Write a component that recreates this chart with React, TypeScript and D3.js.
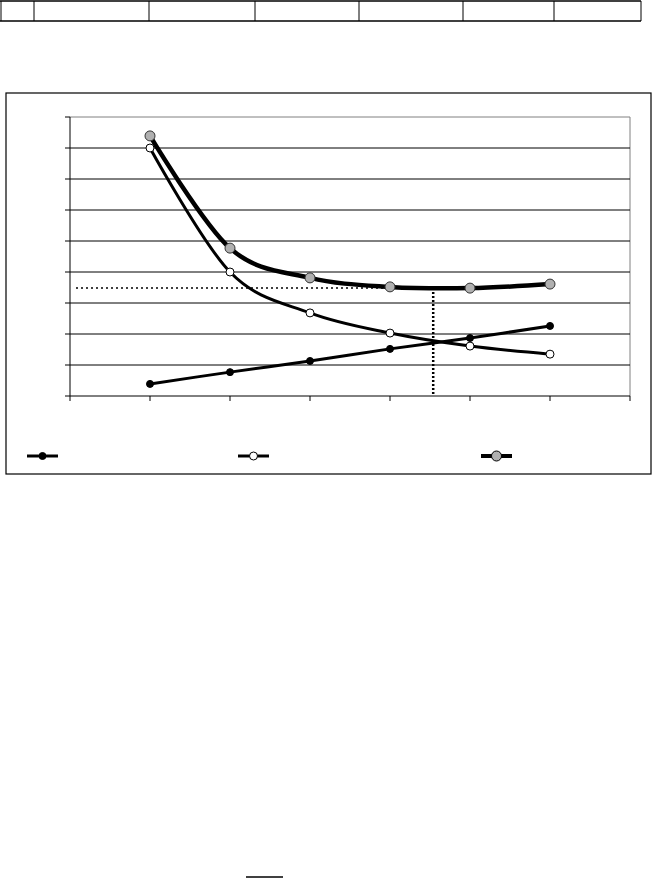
import React from "react";
import * as d3 from "d3";

// x positions (order quantity index) and series values
const xValues = [1, 2, 3, 4, 5, 6];
const holdingCost = [0.39, 0.77, 1.13, 1.52, 1.87, 2.26];
const orderingCost = [8.0, 4.0, 2.68, 2.03, 1.61, 1.35];
const totalCost = [8.39, 4.77, 3.81, 3.52, 3.48, 3.61];
const yTicks = [0, 1, 2, 3, 4, 5, 6, 7, 8, 9];
const xTicks = [0, 1, 2, 3, 4, 5, 6, 7];
const optimumX = 4.54;
const optimumY = 3.48;
const tableColumns = [1, 34, 149, 255, 359, 463, 554, 641];

const W = 653;
const H = 878;

export default function App() {
  const x = d3.scaleLinear().domain([0, 7]).range([70, 630]);
  const y = d3.scaleLinear().domain([0, 9]).range([396, 117]);
  const line = d3
    .line<[number, number]>()
    .x((d) => x(d[0]))
    .y((d) => y(d[1]))
    .curve(d3.curveCardinal.tension(0));
  const pts = (vals: number[]) => xValues.map((v, i) => [v, vals[i]] as [number, number]);

  const legend = [
    { x0: 27, stroke: 3, fill: "#000", r: 3.5, sw: 1 },
    { x0: 238, stroke: 3, fill: "#fff", r: 4, sw: 1 },
    { x0: 481, stroke: 4, fill: "#b0b0b0", r: 5, sw: 1 },
  ];

  return (
    <svg
      width={W}
      height={H}
      style={{ position: "absolute", left: 0, top: 0, background: "#fff" }}
    >
      {/* table row */}
      <line x1={0} x2={641} y1={1} y2={1} stroke="#000" strokeWidth={1.5} />
      <line x1={0} x2={641} y1={21} y2={21} stroke="#000" strokeWidth={1.5} />
      {tableColumns.map((c, i) => (
        <line key={i} x1={c} x2={c} y1={1} y2={21} stroke="#000" strokeWidth={1} />
      ))}

      {/* chart outer box */}
      <rect x={6} y={93} width={645} height={381} fill="#fff" stroke="#000" strokeWidth={1.2} />

      {/* plot area border (gray) */}
      <line x1={x(0)} x2={x(7)} y1={y(9)} y2={y(9)} stroke="#808080" strokeWidth={1} />
      <line x1={x(7)} x2={x(7)} y1={y(9)} y2={y(0)} stroke="#808080" strokeWidth={1} />

      {/* gridlines */}
      {yTicks
        .filter((t) => t > 0 && t < 9)
        .map((t) => (
          <line key={t} x1={x(0)} x2={x(7)} y1={y(t)} y2={y(t)} stroke="#000" strokeWidth={1} />
        ))}

      {/* y axis */}
      <line x1={x(0)} x2={x(0)} y1={y(9)} y2={y(0)} stroke="#000" strokeWidth={1} />
      {yTicks.map((t) => (
        <line key={t} x1={x(0) - 5} x2={x(0)} y1={y(t)} y2={y(t)} stroke="#000" strokeWidth={1} />
      ))}
      {/* x axis */}
      <line x1={x(0)} x2={x(7)} y1={y(0)} y2={y(0)} stroke="#000" strokeWidth={1} />
      {xTicks.map((t) => (
        <line key={t} x1={x(t)} x2={x(t)} y1={y(0)} y2={y(0) + 5} stroke="#000" strokeWidth={1} />
      ))}

      {/* dotted guides */}
      <line
        x1={x(0) + 6}
        x2={x(optimumX)}
        y1={y(optimumY)}
        y2={y(optimumY)}
        stroke="#000"
        strokeWidth={1.5}
        strokeDasharray="2,3"
      />
      <line
        x1={x(optimumX)}
        x2={x(optimumX)}
        y1={y(optimumY)}
        y2={y(0)}
        stroke="#000"
        strokeWidth={2.5}
        strokeDasharray="2,2"
      />

      {/* series lines */}
      <path d={line(pts(holdingCost)) || ""} fill="none" stroke="#000" strokeWidth={3} />
      <path d={line(pts(orderingCost)) || ""} fill="none" stroke="#000" strokeWidth={3} />
      <path d={line(pts(totalCost)) || ""} fill="none" stroke="#000" strokeWidth={4.5} />

      {/* markers */}
      {pts(holdingCost).map((p, i) => (
        <circle key={"a" + i} cx={x(p[0])} cy={y(p[1])} r={3.5} fill="#000" stroke="#000" />
      ))}
      {pts(orderingCost).map((p, i) => (
        <circle key={"b" + i} cx={x(p[0])} cy={y(p[1])} r={4} fill="#fff" stroke="#000" />
      ))}
      {pts(totalCost).map((p, i) => (
        <circle key={"c" + i} cx={x(p[0])} cy={y(p[1])} r={5} fill="#b0b0b0" stroke="#333" />
      ))}

      {/* legend */}
      {legend.map((l, i) => (
        <g key={i}>
          <line x1={l.x0} x2={l.x0 + 31} y1={456} y2={456} stroke="#000" strokeWidth={l.stroke} />
          <circle cx={l.x0 + 15.5} cy={456} r={l.r} fill={l.fill} stroke="#000" strokeWidth={l.sw} />
        </g>
      ))}

      {/* short rule at the bottom */}
      <line x1={246} x2={283} y1={877} y2={877} stroke="#000" strokeWidth={1.5} />
    </svg>
  );
}
